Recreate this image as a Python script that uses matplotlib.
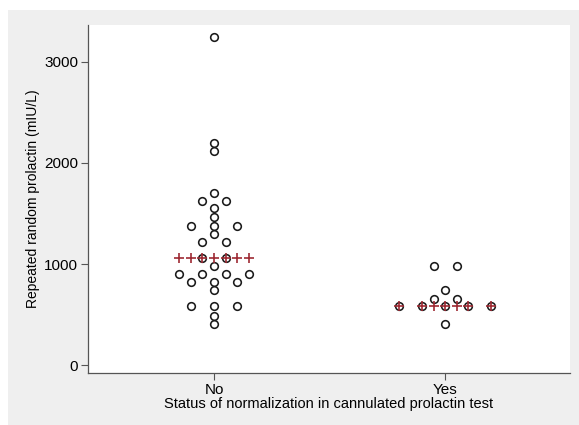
# %%
import matplotlib.pyplot as plt
from matplotlib.patches import Rectangle
import numpy as np

plt.rcParams["font.family"] = ["Liberation Sans", "DejaVu Sans"]

# %% data (mIU/L)
groups = ["No", "Yes"]
prl_no = [3250, 2200, 2120, 1700, 1620, 1620, 1550, 1470, 1380, 1380, 1380,
          1300, 1220, 1220, 1060, 1060, 980, 900, 900, 900, 900,
          820, 820, 820, 740, 580, 580, 580, 490, 410]
prl_yes = [980, 980, 740, 650, 650, 580, 580, 580, 580, 580, 410]
y_ticks = [0, 1000, 2000, 3000]

step = 0.05  # half-gap between stacked markers


def stack_offsets(values):
    # stack equal values side by side, centred on the group
    vals = np.array(values)
    offs = np.zeros(len(vals))
    for v in np.unique(vals):
        idx = np.where(vals == v)[0]
        n = len(idx)
        offs[idx] = (np.arange(n) - (n - 1) / 2) * 2 * step
    return offs


# %%
fig = plt.figure(figsize=(5.79, 4.25), dpi=100)
fig.patches.append(Rectangle((8 / 579, 0), 1, 1 - 10 / 425, transform=fig.transFigure,
                             facecolor="#efefef", edgecolor="none", zorder=-10))
ax = fig.add_axes([88 / 579, 52 / 425, 482 / 579, 348 / 425])
ax.set_facecolor("white")

for i, vals in enumerate([prl_no, prl_yes], start=1):
    offs = stack_offsets(vals)
    ax.plot(i + offs, vals, "o", ms=5.5, mfc="none", mec="#1a1a1a", mew=1.15, zorder=3)
    # median shown as a row of pluses across the stacked columns
    med = np.median(vals)
    xs = np.unique(np.round(offs, 4))
    ax.plot(i + xs, np.full(len(xs), med), "+", ms=6.5, color="#9e2a33", mew=1.2, zorder=4)

ax.set_xlim(0.455, 2.54)
ax.set_ylim(-79, 3366)
ax.set_xticks([1, 2])
ax.set_xticklabels(groups)
ax.set_yticks(y_ticks)
ax.set_xlabel("Status of normalization in cannulated prolactin test", fontsize=10.5, labelpad=0)
ax.set_ylabel("Repeated random prolactin (mIU/L)", fontsize=10, labelpad=3)
ax.tick_params(labelsize=11, length=5, color="#555555", pad=2)
for s in ["top", "right"]:
    ax.spines[s].set_visible(False)
for s in ["left", "bottom"]:
    ax.spines[s].set_color("#555555")
    ax.spines[s].set_linewidth(0.9)

fig.savefig("out.png", dpi=100)
